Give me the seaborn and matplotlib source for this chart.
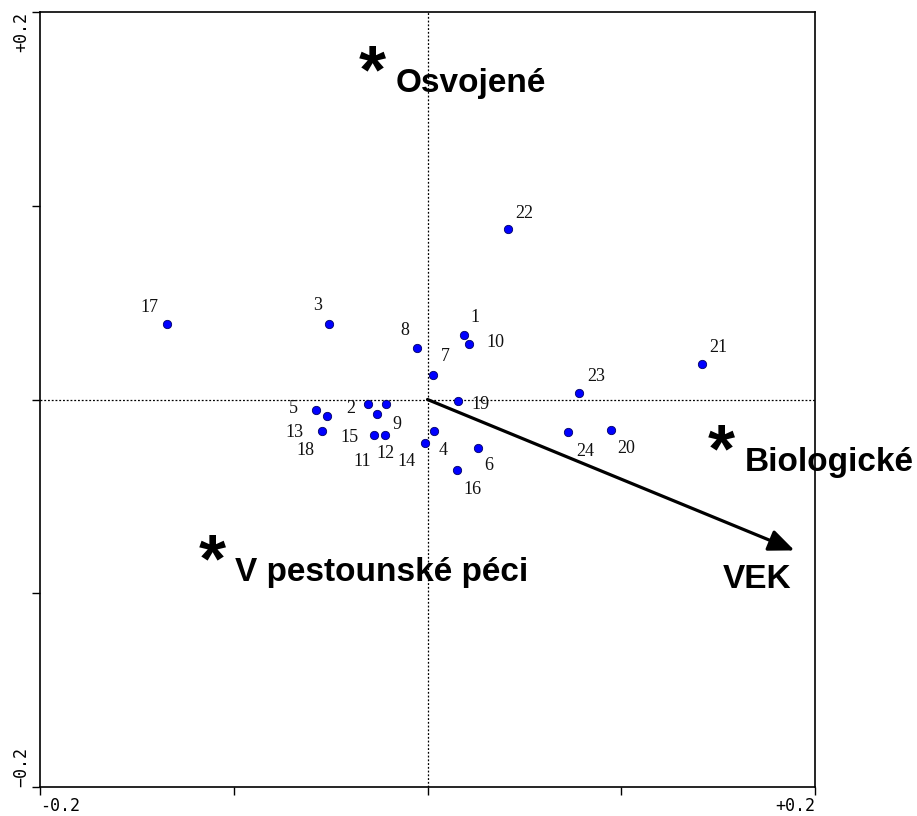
import pandas as pd
import matplotlib
matplotlib.use("Agg")
import matplotlib.pyplot as plt
import seaborn as sns

# sample scores (axis 1, axis 2)
sample_ids = ["17", "3", "8", "7", "1", "10", "22", "21", "23", "24", "20", "19",
              "5", "18", "13", "2", "9", "11", "15", "12", "4", "14", "6", "16"]
axis1 = [-0.1347, -0.0506, -0.0055, 0.0027, 0.0187, 0.0215, 0.0413, 0.1417,
         0.0783, 0.0724, 0.0945, 0.0155, -0.0578, -0.0521, -0.0542, -0.0305,
         -0.0212, -0.0263, -0.0274, -0.0217, 0.0031, -0.0015, 0.0263, 0.0150]
axis2 = [0.0392, 0.0392, 0.0267, 0.0127, 0.0334, 0.0285, 0.0879, 0.0184,
         0.0036, -0.0170, -0.0156, -0.0010, -0.0052, -0.0083, -0.0165, -0.0021,
         -0.0021, -0.0077, -0.0181, -0.0181, -0.0165, -0.0222, -0.0248, -0.0366]

# nominal environmental variables (centroids)
centroid_names = ["Osvojené", "V pestounské péci", "Biologické"]
centroid_x = [-0.0284, -0.1110, 0.1517]
centroid_y = [0.1760, -0.0764, -0.0196]

# quantitative variable arrow
arrow_name = "VEK"
arrow_x = 0.1894
arrow_y = -0.0779

tick_values = [-0.2, -0.1, 0.0, 0.1, 0.2]
x_tick_labels = ["-0.2", "", "", "", "+0.2"]
y_tick_labels = ["−0.2", "", "", "", "+0.2"]

# label offsets in pixels (dx, dy) from each point
label_offsets = {
    "17": (-17, 16), "3": (-12, 18), "8": (-12, 17), "7": (13, 18),
    "1": (11, 17), "10": (26, 2), "22": (17, 16), "21": (16, 16),
    "23": (17, 16), "24": (17, -19), "20": (16, -19), "19": (23, -3),
    "5": (-22, 1), "18": (-21, -35), "13": (-28, -1), "2": (-18, -5),
    "9": (10, -21), "11": (-14, -47), "15": (-25, -3), "12": (0, -19),
    "4": (10, -19), "14": (-18, -19), "6": (10, -18), "16": (16, -19),
}

df = pd.DataFrame({"id": sample_ids, "x": axis1, "y": axis2})

sns.set_theme(style="white")
plt.rcParams["font.family"] = ["Liberation Serif", "DejaVu Serif"]
plt.rcParams["text.color"] = "black"
plt.rcParams["xtick.color"] = "black"
plt.rcParams["ytick.color"] = "black"

fig = plt.figure(figsize=(9.17, 8.16), dpi=100)
ax = fig.add_axes([40 / 917, 29 / 816, 775 / 917, 775 / 816])

ax.axhline(0, color="black", lw=0.9, ls=(0, (1.5, 1.5)), zorder=1)
ax.axvline(0, color="black", lw=0.9, ls=(0, (1.5, 1.5)), zorder=1)

sns.scatterplot(data=df, x="x", y="y", ax=ax, color="#0000ff", s=36,
                edgecolor="#000066", linewidth=0.6, zorder=3, legend=False)

for sid, px, py in zip(sample_ids, axis1, axis2):
    dx, dy = label_offsets[sid]
    ax.annotate(sid, (px, py), xytext=(dx, dy), textcoords="offset pixels",
                ha="center", va="center", fontsize=13, color="#111111",
                family=["Liberation Serif"])

# arrow
ax.annotate("", xy=(arrow_x, arrow_y), xytext=(0, 0),
            arrowprops=dict(arrowstyle="-|>,head_length=1.3,head_width=0.55",
                            color="black", lw=2.3, shrinkA=0, shrinkB=0))
ax.annotate(arrow_name, (arrow_x, arrow_y), xytext=(-37, -29),
            textcoords="offset pixels", ha="center", va="center",
            fontsize=24, fontweight="bold", family=["Liberation Sans"])

# centroids
for name, cx, cy in zip(centroid_names, centroid_x, centroid_y):
    ax.annotate("*", (cx, cy), xytext=(0, -16), textcoords="offset pixels",
                ha="center", va="center", fontsize=50, fontweight="bold",
                family=["Liberation Sans"], annotation_clip=False)
    ax.annotate(name, (cx, cy), xytext=(23, -25), textcoords="offset pixels",
                ha="left", va="center", fontsize=24, fontweight="bold",
                family=["Liberation Sans"], annotation_clip=False)

ax.set_xlim(-0.2, 0.2)
ax.set_ylim(-0.2, 0.2)
ax.set_xticks(tick_values)
ax.set_yticks(tick_values)
ax.set_xticklabels(x_tick_labels, family=["DejaVu Sans Mono"], fontsize=12)
ax.set_yticklabels(y_tick_labels, family=["DejaVu Sans Mono"], fontsize=12,
                   rotation=90)
xl = ax.get_xticklabels()
xl[0].set_ha("left")
xl[-1].set_ha("right")
yl = ax.get_yticklabels()
yl[0].set_va("bottom")
yl[-1].set_va("top")
ax.tick_params(axis="both", direction="out", length=6, width=1,
               color="black", bottom=True, left=True, pad=1)
ax.set_xlabel("")
ax.set_ylabel("")
for sp in ax.spines.values():
    sp.set_color("black")
    sp.set_linewidth(1.2)

fig.savefig("out.png", dpi=100)
